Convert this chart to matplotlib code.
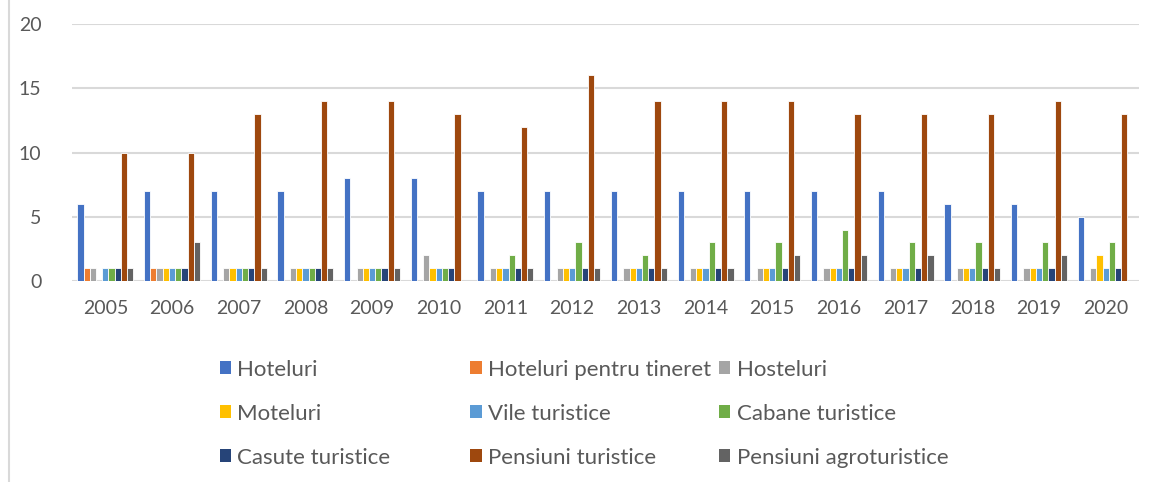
import matplotlib.pyplot as plt
import numpy as np
from matplotlib.lines import Line2D
from matplotlib.patches import Patch

plt.rcParams["font.family"] = ["Lato", "DejaVu Sans"]

years = [str(y) for y in range(2005, 2021)]
series_names = [
    "Hoteluri",
    "Hoteluri pentru tineret",
    "Hosteluri",
    "Moteluri",
    "Vile turistice",
    "Cabane turistice",
    "Casute turistice",
    "Pensiuni turistice",
    "Pensiuni agroturistice",
]
hoteluri = [6, 7, 7, 7, 8, 8, 7, 7, 7, 7, 7, 7, 7, 6, 6, 5]
hoteluri_tineret = [1, 1, 0, 0, 0, 0, 0, 0, 0, 0, 0, 0, 0, 0, 0, 0]
hosteluri = [1, 1, 1, 1, 1, 2, 1, 1, 1, 1, 1, 1, 1, 1, 1, 1]
moteluri = [0, 1, 1, 1, 1, 1, 1, 1, 1, 1, 1, 1, 1, 1, 1, 2]
vile = [1, 1, 1, 1, 1, 1, 1, 1, 1, 1, 1, 1, 1, 1, 1, 1]
cabane = [1, 1, 1, 1, 1, 1, 2, 3, 2, 3, 3, 4, 3, 3, 3, 3]
casute = [1, 1, 1, 1, 1, 1, 1, 1, 1, 1, 1, 1, 1, 1, 1, 1]
pensiuni = [10, 10, 13, 14, 14, 13, 12, 16, 14, 14, 14, 13, 13, 13, 14, 13]
agroturistice = [1, 3, 1, 1, 1, 0, 1, 1, 1, 1, 2, 2, 2, 1, 2, 0]

all_series = [hoteluri, hoteluri_tineret, hosteluri, moteluri, vile,
              cabane, casute, pensiuni, agroturistice]
colors = ["#4472C4", "#ED7D31", "#A5A5A5", "#FFC000", "#5B9BD5",
          "#70AD47", "#264478", "#9E480E", "#636363"]

text_color = "#595959"
grid_color = "#D9D9D9"

fig = plt.figure(figsize=(11.56, 4.82), dpi=100)
ax = fig.add_axes([0.0623, 0.417, 0.923, 0.533])

x = np.arange(len(years))
n = len(all_series)
width = 0.84 / n
for i, (vals, color) in enumerate(zip(all_series, colors)):
    offset = (i - (n - 1) / 2) * width
    ax.bar(x + offset, vals, width, color=color, edgecolor="white",
           linewidth=0.6, zorder=3)

ax.set_xlim(-0.5, len(years) - 0.5)
ax.set_ylim(0, 20)
ax.set_yticks([0, 5, 10, 15, 20])
ax.set_xticks(x)
ax.set_xticklabels(years)
ax.yaxis.grid(True, color=grid_color, linewidth=1.5, zorder=0)
ax.set_axisbelow(True)
for spine in ax.spines.values():
    spine.set_visible(False)
ax.tick_params(axis="both", length=0, labelsize=14, labelcolor=text_color)
ax.tick_params(axis="y", pad=22)
ax.tick_params(axis="x", pad=14)

# legend, three columns placed separately
handles = [Patch(facecolor=c, edgecolor="none") for c in colors]
col_x = [0.190, 0.407, 0.622]
for col in range(3):
    idx = [col, col + 3, col + 6]
    leg = fig.legend([handles[i] for i in idx], [series_names[i] for i in idx],
                     loc="upper left", bbox_to_anchor=(col_x[col], 0.254),
                     frameon=False, fontsize=16, labelspacing=1.08,
                     handlelength=0.5, handleheight=0.5, handletextpad=0.3,
                     borderaxespad=0, borderpad=0)
    for t in leg.get_texts():
        t.set_color(text_color)

# chart area border on the left
fig.add_artist(Line2D([0.0075, 0.0075], [0, 1], color=grid_color,
                      linewidth=1.5, transform=fig.transFigure))

fig.savefig("out.png", dpi=100)
